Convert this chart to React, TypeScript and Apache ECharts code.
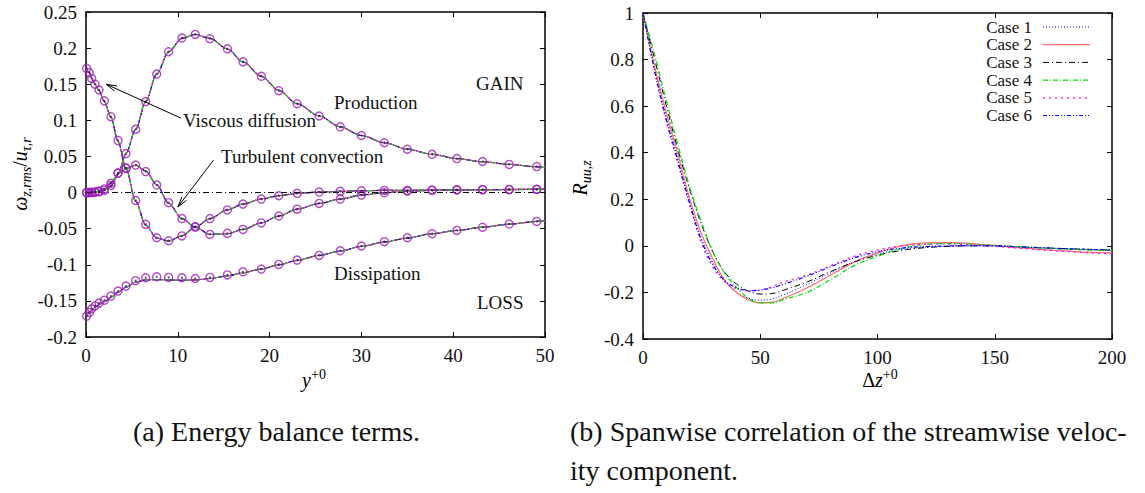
import React, { useEffect, useRef } from "react";
import * as echarts from "echarts";

// ---------- Data: (a) energy balance terms ----------
const lineX = [0, 0.36, 0.62, 0.98, 1.42, 2.0, 2.72, 3.49, 4.36, 5.41, 6.5, 7.7, 9.0, 10.45, 11.9, 13.5, 15.4, 17.1, 19.1, 21.0, 23.0, 25.4, 27.7, 30.0, 32.5, 35.0, 37.7, 40.4, 43.2, 46.1, 49.1, 50];
const lineProduction = [0, 0, 0.0002, 0.0005, 0.001, 0.003, 0.009, 0.025, 0.054, 0.0875, 0.126, 0.164, 0.195, 0.2135, 0.219, 0.2135, 0.199, 0.181, 0.161, 0.1415, 0.123, 0.106, 0.091, 0.079, 0.069, 0.06, 0.053, 0.047, 0.0427, 0.039, 0.0357, 0.035];
const lineViscous = [0.172, 0.166, 0.158, 0.15, 0.141, 0.126, 0.104, 0.071, 0.033, -0.012, -0.045, -0.063, -0.067, -0.06, -0.048, -0.036, -0.024, -0.016, -0.009, -0.0044, -0.0011, 0.0007, 0.0017, 0.0025, 0.003, 0.003, 0.0035, 0.004, 0.004, 0.004, 0.0044, 0.0044];
const lineTurbulent = [0, 0, 0.0003, 0.0008, 0.002, 0.005, 0.013, 0.026, 0.0335, 0.038, 0.03, 0.011, -0.015, -0.036, -0.048, -0.058, -0.057, -0.051, -0.042, -0.0325, -0.023, -0.015, -0.009, -0.0035, -0.0003, 0.002, 0.003, 0.0035, 0.004, 0.0043, 0.0045, 0.0045];
const lineDissipation = [-0.171, -0.167, -0.163, -0.159, -0.155, -0.151, -0.145, -0.138, -0.131, -0.124, -0.121, -0.1205, -0.121, -0.1215, -0.121, -0.119, -0.1155, -0.111, -0.106, -0.1, -0.094, -0.087, -0.081, -0.0745, -0.0685, -0.063, -0.057, -0.0525, -0.048, -0.0438, -0.04, -0.039];

const refX = [0.07, 0.36, 0.62, 0.98, 1.42, 2.0, 2.72, 3.49, 4.36, 5.41, 6.5, 7.7, 9.0, 10.45, 11.9, 13.5, 15.4, 17.1, 19.1, 21.0, 23.0, 25.4, 27.7, 30.0, 32.5, 35.0, 37.7, 40.4, 43.2, 46.1, 49.1];
const refProduction = [0, 0, 0.0002, 0.0005, 0.001, 0.003, 0.01, 0.027, 0.054, 0.0875, 0.126, 0.164, 0.195, 0.214, 0.219, 0.213, 0.199, 0.181, 0.161, 0.141, 0.123, 0.106, 0.091, 0.079, 0.069, 0.06, 0.053, 0.047, 0.043, 0.039, 0.036];
const refViscous = [0.172, 0.166, 0.158, 0.15, 0.142, 0.127, 0.105, 0.072, 0.034, -0.011, -0.044, -0.0626, -0.0667, -0.06, -0.048, -0.036, -0.024, -0.016, -0.009, -0.0044, -0.0011, 0.0007, 0.0017, 0.0025, 0.003, 0.003, 0.0035, 0.004, 0.004, 0.004, 0.0044];
const refTurbulent = [0, 0, 0.0003, 0.0008, 0.002, 0.005, 0.013, 0.027, 0.0335, 0.038, 0.029, 0.0104, -0.014, -0.036, -0.047, -0.058, -0.0565, -0.051, -0.042, -0.0325, -0.023, -0.015, -0.009, -0.0035, -0.0003, 0.002, 0.003, 0.0035, 0.004, 0.0043, 0.0045];
const refDissipation = [-0.171, -0.166, -0.161, -0.157, -0.153, -0.149, -0.1434, -0.1364, -0.1295, -0.122, -0.118, -0.1166, -0.1175, -0.118, -0.119, -0.1175, -0.114, -0.1097, -0.106, -0.0995, -0.0935, -0.087, -0.0806, -0.074, -0.068, -0.0626, -0.057, -0.0524, -0.048, -0.0436, -0.04];

const zeroLineX = [0, 50];
const zeroLineY = [0, 0];

// ---------- Data: (b) spanwise correlation ----------
const caseNames = ["Case 1", "Case 2", "Case 3", "Case 4", "Case 5", "Case 6"];
const dzX = [0, 5, 10, 15, 20, 25, 30, 35, 40, 45, 50, 55, 60, 70, 80, 90, 100, 110, 120, 130, 140, 150, 160, 170, 180, 190, 200];
const case1 = [1, 0.76, 0.555, 0.37, 0.185, 0.03, -0.075, -0.155, -0.2, -0.225, -0.233, -0.228, -0.21, -0.165, -0.115, -0.068, -0.035, -0.015, -0.006, -0.002, 0, 0, -0.004, -0.009, -0.013, -0.017, -0.02];
const case2 = [1, 0.77, 0.57, 0.39, 0.2, 0.05, -0.06, -0.15, -0.2, -0.232, -0.245, -0.243, -0.225, -0.18, -0.125, -0.07, -0.03, 0, 0.013, 0.014, 0.01, 0.002, -0.008, -0.016, -0.022, -0.027, -0.03];
const case3 = [1, 0.8, 0.6, 0.41, 0.24, 0.09, -0.03, -0.115, -0.165, -0.195, -0.207, -0.205, -0.19, -0.155, -0.11, -0.07, -0.04, -0.02, -0.008, -0.002, 0, 0, -0.004, -0.008, -0.012, -0.015, -0.018];
const case4 = [1, 0.82, 0.62, 0.43, 0.25, 0.1, -0.03, -0.12, -0.18, -0.225, -0.245, -0.245, -0.23, -0.2, -0.145, -0.085, -0.045, -0.012, 0.006, 0.01, 0.007, 0.002, -0.004, -0.01, -0.014, -0.018, -0.02];
const case5 = [1, 0.745, 0.53, 0.35, 0.17, 0.01, -0.095, -0.155, -0.185, -0.193, -0.19, -0.175, -0.155, -0.125, -0.085, -0.045, -0.018, 0, 0.006, 0.008, 0.004, -0.002, -0.01, -0.017, -0.024, -0.03, -0.034];
const case6 = [1, 0.75, 0.54, 0.36, 0.18, 0.02, -0.085, -0.15, -0.18, -0.192, -0.19, -0.18, -0.165, -0.13, -0.09, -0.052, -0.025, -0.01, -0.003, 0, 0.001, 0, -0.004, -0.008, -0.012, -0.015, -0.018];

const FONT = "Liberation Serif";

const caseStyles = [
  { color: "#0000ff", type: [1, 2], width: 1 },
  { color: "#ff6a6a", type: "solid", width: 1.2 },
  { color: "#000000", type: [6, 3, 1, 3], width: 1 },
  { color: "#00dd00", type: [5, 2, 1, 2], width: 1.2 },
  { color: "#ff00ff", type: [2, 4], width: 1.2 },
  { color: "#0000ff", type: [4, 2, 1, 2, 1, 2], width: 1.2 },
];
const drawOrder = [0, 1, 2, 5, 3, 4];

export default function App() {
  const ref = useRef<HTMLDivElement>(null);
  useEffect(() => {
    if (!ref.current) return;
    const chart = echarts.init(ref.current, undefined, { renderer: "svg" });

    const pairs = (xs: number[], ys: number[]) => xs.map((x, i) => [x, ys[i]]);
    const axisLine = { show: true, onZero: false, lineStyle: { color: "#000", width: 1.5 } };
    const tick = { show: true, inside: true, length: 5, lineStyle: { color: "#000", width: 1 } };
    const label = { fontFamily: FONT, fontSize: 19, color: "#111" };

    const series: any[] = [];
    const terms = [lineProduction, lineViscous, lineTurbulent, lineDissipation];
    terms.forEach((vals) => {
      drawOrder.forEach((c) => {
        const s = caseStyles[c];
        series.push({
          type: "line", xAxisIndex: 0, yAxisIndex: 0, data: pairs(lineX, vals),
          smooth: 0.3, smoothMonotone: "x", showSymbol: false, silent: true,
          lineStyle: { color: s.color, type: s.type, width: s.width },
        });
      });
    });
    series.push({
      type: "line", xAxisIndex: 0, yAxisIndex: 0, data: pairs(zeroLineX, zeroLineY),
      showSymbol: false, lineStyle: { color: "#000", type: [6, 3, 1, 3], width: 1 },
    });
    [refProduction, refViscous, refTurbulent, refDissipation].forEach((vals) => {
      series.push({
        type: "scatter", xAxisIndex: 0, yAxisIndex: 0, data: pairs(refX, vals),
        symbol: "circle", symbolSize: 8, z: 5,
        itemStyle: { color: "rgba(255,255,255,0)", borderColor: "#9b1fb8", borderWidth: 1.4 },
      });
      series.push({
        type: "scatter", xAxisIndex: 0, yAxisIndex: 0, data: pairs(refX, vals),
        symbol: "circle", symbolSize: 2, z: 6, itemStyle: { color: "#4a0d5c" },
      });
    });
    const cases = [case1, case2, case3, case4, case5, case6];
    cases.forEach((vals, c) => {
      const s = caseStyles[c];
      series.push({
        type: "line", name: caseNames[c], xAxisIndex: 2, yAxisIndex: 2, data: pairs(dzX, vals),
        smooth: 0.35, showSymbol: false,
        lineStyle: { color: s.color, type: s.type, width: s.width },
      });
    });

    const lFmt = (v: number) => String(Math.round(v * 100) / 100);
    const rFmt = (v: number) => String(Math.round(v * 10) / 10);

    // Annotation positions in data coordinates of grid (a)
    const gx0 = 86, gy0 = 12, gw = 459, gh = 325;
    const toPx = (p: number[]) => [gx0 + (p[0] / 50) * gw, gy0 + ((0.25 - p[1]) / 0.45) * gh];
    const arrow = (from: number[], to: number[]) => {
      const a = toPx(from);
      const b = toPx(to);
      const dx = b[0] - a[0], dy = b[1] - a[1];
      const len = Math.hypot(dx, dy);
      const ux = dx / len, uy = dy / len;
      const hl = 11, ang = 0.26;
      const rot = (s: number) => [
        b[0] - hl * (ux * Math.cos(s * ang) - uy * Math.sin(s * ang)),
        b[1] - hl * (uy * Math.cos(s * ang) + ux * Math.sin(s * ang)),
      ];
      return [
        { type: "line", shape: { x1: a[0], y1: a[1], x2: b[0], y2: b[1] }, style: { stroke: "#000", lineWidth: 1 }, z: 10 },
        { type: "polyline", shape: { points: [rot(1), b, rot(-1)] }, style: { stroke: "#000", fill: null, lineWidth: 1 }, z: 10 },
      ];
    };

    const txt = (text: string, x: number, y: number, size = 19, align = "left") => ({
      type: "text", x, y, z: 20,
      style: { text, fontFamily: FONT, fontSize: size, fill: "#111", textAlign: align, textVerticalAlign: "middle" },
    });
    const richStyles = {
      i: { fontFamily: FONT, fontStyle: "italic", fontSize: 20, lineHeight: 26, verticalAlign: "middle", color: "#111" },
      n: { fontFamily: FONT, fontSize: 20, lineHeight: 26, verticalAlign: "middle", color: "#111" },
      s: { fontFamily: FONT, fontStyle: "italic", fontSize: 14, lineHeight: 26, verticalAlign: "bottom", color: "#111" },
      p: { fontFamily: FONT, fontSize: 14, lineHeight: 26, verticalAlign: "top", color: "#111" },
    };
    const rich = (text: string, x: number, y: number, rotation = 0) => ({
      type: "text", x, y, rotation, z: 20,
      style: { text, rich: richStyles, textAlign: "center", textVerticalAlign: "middle" },
    });

    const legend: any[] = [];
    caseNames.forEach((name, k) => {
      const y = 27 + k * 17.7;
      const s = caseStyles[k];
      legend.push(txt(name, 1032, y, 17, "right"));
      legend.push({
        type: "line", z: 20, shape: { x1: 1043, y1: y, x2: 1090, y2: y },
        style: { stroke: s.color, lineWidth: s.width, lineDash: s.type === "solid" ? null : s.type },
      });
    });

    chart.setOption({
      animation: false,
      backgroundColor: "#fff",
      grid: [
        { left: gx0, top: gy0, width: gw, height: gh },
        { left: 643, top: 13, width: 469, height: 326 },
      ],
      xAxis: [
        { gridIndex: 0, type: "value", min: 0, max: 50, interval: 10, position: "bottom", axisLine, axisTick: tick, splitLine: { show: false }, axisLabel: { ...label, margin: 9 } },
        { gridIndex: 0, type: "value", min: 0, max: 50, interval: 10, position: "top", axisLine, axisTick: tick, splitLine: { show: false }, axisLabel: { show: false } },
        { gridIndex: 1, type: "value", min: 0, max: 200, interval: 50, position: "bottom", axisLine, axisTick: tick, splitLine: { show: false }, axisLabel: { ...label, margin: 9 } },
        { gridIndex: 1, type: "value", min: 0, max: 200, interval: 50, position: "top", axisLine, axisTick: tick, splitLine: { show: false }, axisLabel: { show: false } },
      ],
      yAxis: [
        { gridIndex: 0, type: "value", min: -0.2, max: 0.25, interval: 0.05, position: "left", axisLine, axisTick: tick, splitLine: { show: false }, axisLabel: { ...label, margin: 9, formatter: lFmt } },
        { gridIndex: 0, type: "value", min: -0.2, max: 0.25, interval: 0.05, position: "right", axisLine, axisTick: tick, splitLine: { show: false }, axisLabel: { show: false } },
        { gridIndex: 1, type: "value", min: -0.4, max: 1, interval: 0.2, position: "left", axisLine, axisTick: tick, splitLine: { show: false }, axisLabel: { ...label, margin: 9, formatter: rFmt } },
        { gridIndex: 1, type: "value", min: -0.4, max: 1, interval: 0.2, position: "right", axisLine, axisTick: tick, splitLine: { show: false }, axisLabel: { show: false } },
      ],
      series,
      graphic: [
        ...arrow([10.35, 0.103], [2.2, 0.15]),
        ...arrow([13.9, 0.045], [10.0, -0.02]),
        txt("Production", 334, 102),
        txt("GAIN", 476, 83),
        txt("Viscous diffusion", 183, 120),
        txt("Turbulent convection", 221, 156),
        txt("Dissipation", 334, 273),
        txt("LOSS", 477, 302),
        rich("{i|ω}{s|z,rms}{n|/}{i|u}{s|τ,r}", 20, 174, Math.PI / 2),
        rich("{i|y}{p|+0}", 314, 380),
        rich("{i|R}{s|uu,z}", 580, 178, Math.PI / 2),
        rich("{n|Δ}{i|z}{p|+0}", 880, 380),
        ...legend,
        txt("(a) Energy balance terms.", 133, 431, 28),
        txt("(b) Spanwise correlation of the streamwise veloc-", 570, 431, 28),
        txt("ity component.", 570, 470, 28),
      ],
    });

    return () => chart.dispose();
  }, []);
  return (
    <div
      ref={ref}
      style={{ position: "absolute", left: 0, top: 0, width: 1145, height: 493, background: "#fff" }}
    />
  );
}
